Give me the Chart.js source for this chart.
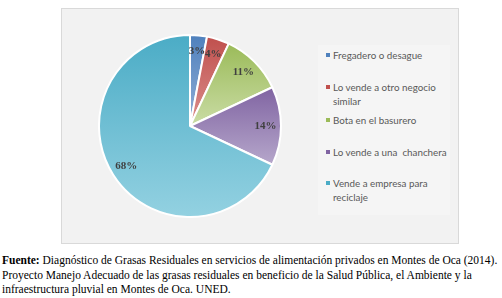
<!DOCTYPE html>
<html>
<head>
<meta charset="utf-8">
<script src="https://cdn.jsdelivr.net/npm/chart.js@4/dist/chart.umd.min.js"></script>
<style>
  body { margin: 0; width: 502px; height: 298px; background: #fff; position: relative; overflow: hidden; }
  #frame { position: absolute; left: 61px; top: 8px; width: 396px; height: 234px; background: #f2f2f2; border: 1px solid #d9d9d9; }
  #pieWrap { position: absolute; left: 98px; top: 34px; width: 184px; height: 184px; }
  #legend { position: absolute; left: 318px; top: 45px; width: 132px; height: 170px; background: #f5f5f5; font-family: Lato, "Open Sans", sans-serif; font-size: 9.8px; color: #595959; }
  .item { position: absolute; left: 8px; line-height: 14px; padding-left: 7px; white-space: nowrap; }
  .item i { position: absolute; left: 0; top: 5px; width: 4px; height: 4px; }
  #caption { position: absolute; left: 2px; top: 253px; width: 500px; font-family: "Liberation Serif", "Times New Roman", serif; font-size: 11.5px; line-height: 14.5px; color: #000; white-space: nowrap; }
</style>
</head>
<body>
<div id="frame"></div>
<div id="pieWrap"><canvas id="pie" width="184" height="184"></canvas></div>
<div id="legend"></div>
<div id="caption"><b>Fuente:</b> Diagnóstico de Grasas Residuales en servicios de alimentación privados en Montes de Oca (2014).<br>Proyecto Manejo Adecuado de las grasas residuales en beneficio de la Salud Pública, el Ambiente y la<br>infraestructura pluvial en Montes de Oca. UNED.</div>
<script>
// data
const categories = ['Fregadero o desague', 'Lo vende a otro negocio similar', 'Bota en el basurero', 'Lo vende a una  chanchera', 'Vende a empresa para reciclaje'];
const legendLines = [['Fregadero o desague'], ['Lo vende a otro negocio', 'similar'], ['Bota en el basurero'], ['Lo vende a una\u00a0 chanchera'], ['Vende a empresa para', 'reciclaje']];
const percents = [3, 4, 11, 14, 68];
const baseColors = ['#4f81bd', '#c0504d', '#9bbb59', '#8064a2', '#4bacc6'];
const lightColors = ['#93afd6', '#db8f8d', '#cadca5', '#b6a7cb', '#93d1e1'];
const legendTops = [48, 80, 113, 145, 176];

// legend as html
const legend = document.getElementById('legend');
legendLines.forEach((lines, i) => {
    const div = document.createElement('div');
    div.className = 'item';
    div.style.top = (legendTops[i] - 45) + 'px';
    div.innerHTML = '<i style="background:' + baseColors[i] + '"></i>' + lines.join('<br>');
    legend.appendChild(div);
});

// gradient fill for each slice, top to bottom of its own box
const sliceGradient = {
    id: 'sliceGradient',
    beforeDatasetsDraw(chart) {
        const ctx = chart.ctx;
        chart.getDatasetMeta(0).data.forEach((arc, i) => {
            const p = arc.getProps(['x', 'y', 'startAngle', 'endAngle', 'outerRadius']);
            let top = p.y, bottom = p.y;
            for (let k = 0; k <= 40; k++) {
                const a = p.startAngle + (p.endAngle - p.startAngle) * k / 40;
                const yy = p.y + Math.sin(a) * p.outerRadius;
                top = Math.min(top, yy);
                bottom = Math.max(bottom, yy);
            }
            const g = ctx.createLinearGradient(0, top, 0, bottom);
            g.addColorStop(0, baseColors[i]);
            g.addColorStop(1, lightColors[i]);
            arc.options.backgroundColor = g;
        });
    }
};

// percentage labels inside slices
const sliceLabels = {
    id: 'sliceLabels',
    afterDatasetsDraw(chart) {
        const ctx = chart.ctx;
        ctx.save();
        ctx.font = 'bold 11px "Liberation Serif", serif';
        ctx.fillStyle = '#404040';
        ctx.textAlign = 'center';
        ctx.textBaseline = 'middle';
        chart.getDatasetMeta(0).data.forEach((arc, i) => {
            const p = arc.getProps(['x', 'y', 'startAngle', 'endAngle', 'outerRadius']);
            const mid = (p.startAngle + p.endAngle) / 2;
            const r = p.outerRadius * 0.83;
            ctx.fillText(percents[i] + '%', p.x + Math.cos(mid) * r, p.y + Math.sin(mid) * r);
        });
        ctx.restore();
    }
};

new Chart(document.getElementById('pie'), {
    type: 'pie',
    data: {
        labels: categories,
        datasets: [{
            data: percents,
            backgroundColor: baseColors,
            borderColor: '#ffffff',
            borderWidth: 2
        }]
    },
    options: {
        responsive: false,
        animation: false,
        plugins: {
            legend: { display: false },
            tooltip: { enabled: false }
        }
    },
    plugins: [sliceGradient, sliceLabels]
});
</script>
</body>
</html>
